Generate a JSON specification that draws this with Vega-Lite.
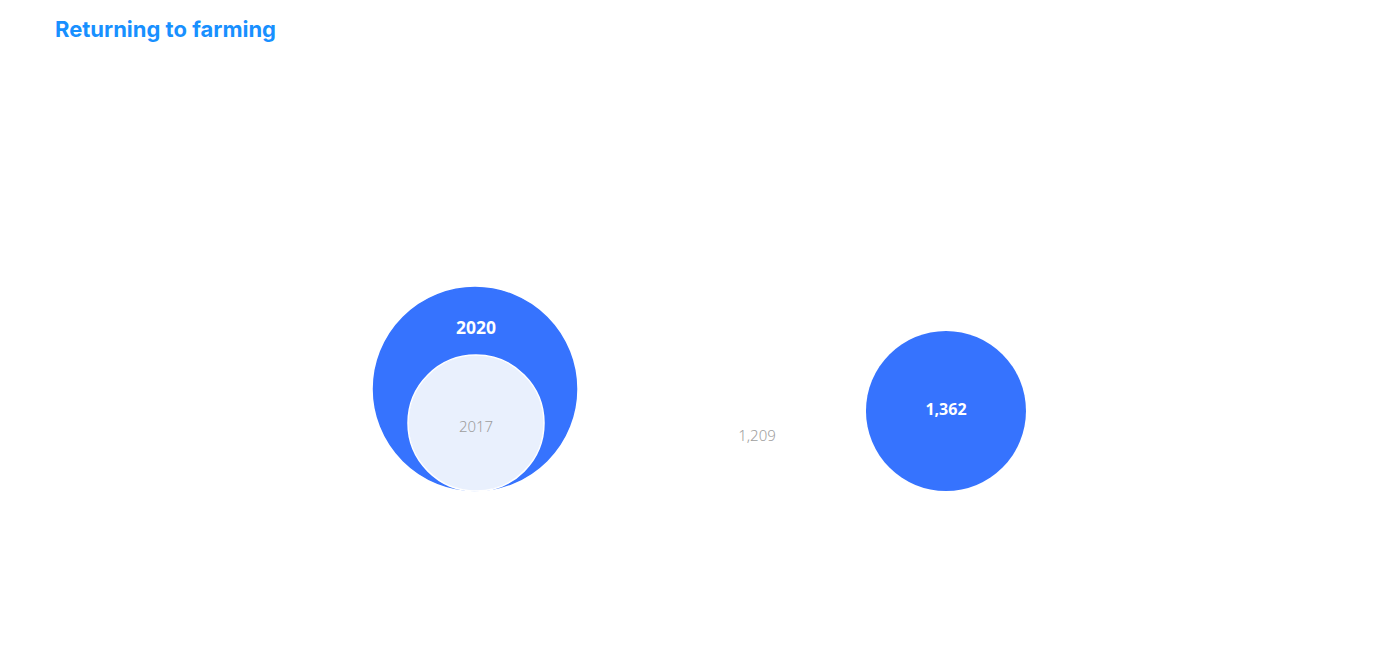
{
  "$schema": "https://vega.github.io/schema/vega-lite/v6.json",
  "width": 1400,
  "height": 611,
  "autosize": {"type": "none"},
  "padding": {"left": 0, "right": 0, "top": 50, "bottom": 0},
  "background": "#ffffff",
  "title": {
    "text": "Returning to farming",
    "anchor": "start",
    "frame": "group",
    "dx": 55,
    "offset": -9,
    "baseline": "alphabetic",
    "font": "Inter",
    "fontSize": 22,
    "fontWeight": "bold",
    "color": "#1890ff"
  },
  "config": {"view": {"stroke": null}},
  "datasets": {
    "circles": [
      {"panel": "left", "year": "2020", "value": 1362, "x": 33.93, "y": 44.52},
      {"panel": "left", "year": "2017", "value": 1209, "x": 34.0, "y": 38.95},
      {"panel": "right", "year": "2020", "value": 1362, "x": 67.57, "y": 40.92}
    ],
    "labels": [
      {"panel": "left", "year": "2020", "label": "2020", "x": 34.0, "y": 54.33},
      {"panel": "left", "year": "2017", "label": "2017", "x": 34.0, "y": 38.3},
      {"panel": "right", "year": "2020", "label": "1,362", "x": 67.57, "y": 41.1},
      {"panel": "right", "year": "2017", "label": "1,209", "x": 54.07, "y": 36.82}
    ]
  },
  "encoding": {
    "x": {"field": "x", "type": "quantitative", "scale": {"domain": [0, 100]}, "axis": null},
    "y": {"field": "y", "type": "quantitative", "scale": {"domain": [0, 100]}, "axis": null}
  },
  "layer": [
    {
      "data": {"name": "circles"},
      "transform": [{"filter": "datum.panel == 'left'"}],
      "mark": {"type": "circle", "opacity": 1, "strokeWidth": 1.5},
      "encoding": {
        "size": {"field": "value", "type": "quantitative", "legend": null,
          "scale": {"domain": [1209, 1362], "range": [18496, 41209], "zero": false}},
        "color": {"field": "year", "type": "nominal", "legend": null,
          "scale": {"domain": ["2020", "2017"], "range": ["#3673fe", "#e9f0fd"]}},
        "stroke": {"field": "year", "type": "nominal", "legend": null,
          "scale": {"domain": ["2020", "2017"], "range": ["#3673fe", "#ffffff"]}}
      }
    },
    {
      "data": {"name": "circles"},
      "transform": [{"filter": "datum.panel == 'right'"}],
      "mark": {"type": "circle", "opacity": 1, "color": "#3673fe"},
      "encoding": {
        "size": {"field": "value", "type": "quantitative", "legend": null,
          "scale": {"domain": [1209, 1362], "range": [12100, 25600], "zero": false}}
      }
    },
    {
      "data": {"name": "labels"},
      "transform": [{"filter": "datum.year == '2020' && datum.panel == 'left'"}],
      "mark": {"type": "text", "font": "Noto Sans", "fontSize": 17.5, "fontWeight": "bold", "color": "#ffffff", "baseline": "middle", "align": "center"},
      "encoding": {"text": {"field": "label"}}
    },
    {
      "data": {"name": "labels"},
      "transform": [{"filter": "datum.year == '2020' && datum.panel == 'right'"}],
      "mark": {"type": "text", "font": "Noto Sans", "fontSize": 16, "fontWeight": "bold", "color": "#ffffff", "baseline": "middle", "align": "center"},
      "encoding": {"text": {"field": "label"}}
    },
    {
      "data": {"name": "labels"},
      "transform": [{"filter": "datum.year == '2017'"}],
      "mark": {"type": "text", "font": "Noto Sans", "fontSize": 15, "fontWeight": 300, "color": "#9e9e9e", "baseline": "middle", "align": "center"},
      "encoding": {"text": {"field": "label"}}
    }
  ],
  "resolve": {"scale": {"size": "independent", "color": "independent"}}
}
